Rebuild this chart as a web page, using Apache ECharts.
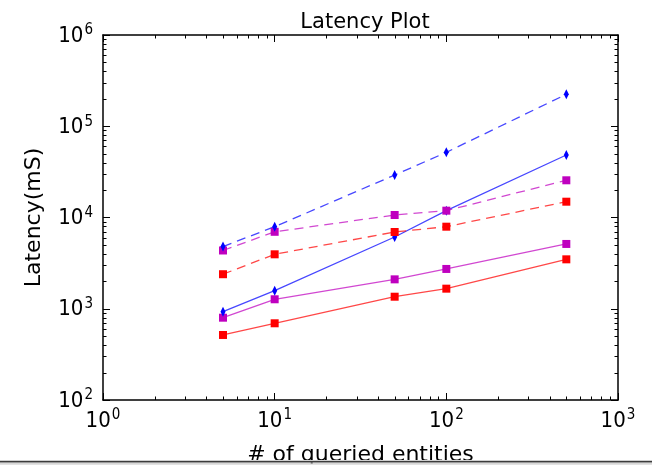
<!DOCTYPE html>
<html>
<head>
<meta charset="utf-8">
<title>Latency Plot</title>
<script src="https://cdn.jsdelivr.net/npm/echarts@6/dist/echarts.min.js"></script>
<style>
  html, body { margin: 0; padding: 0; background: #fff; }
  #chart { width: 652px; height: 465px; }
</style>
</head>
<body>
<div id="chart"></div>
<script>
// ======================
// DATA
// ======================

const entities = [5, 10, 50, 100, 500];

const redSolid      = [516, 693, 1355, 1660, 3480];
const magentaSolid  = [798, 1270, 2100, 2730, 5130];
const blueSolid     = [929, 1578, 6110, 11880, 48400];
const redDashed     = [2390, 3950, 6940, 7930, 14900];
const magentaDashed = [4350, 6970, 10650, 11880, 25570];
const blueDashed    = [4800, 7930, 29200, 51800, 224000];

const xRange = [1, 1000];
const yRange = [100, 1000000];

// ======================
// HELPERS
// ======================

const FONT = 'DejaVu Sans';
const TICK_FONT = 'DejaVu Sans Condensed';

const pairs = ys => entities.map((x, i) => [x, ys[i]]);

const powLabel = v => '{b|10}{s|' + Math.round(Math.log10(v)) + '}';

const tickRich = {
    b: { fontFamily: TICK_FONT, fontSize: 22, color: '#000', lineHeight: 24, verticalAlign: 'bottom' },
    s: { fontFamily: TICK_FONT, fontSize: 15, color: '#000', lineHeight: 24, verticalAlign: 'top', padding: [0, 0, 6, 1] }
};

function makeSeries(name, ys, color, dashed, marker) {
    const isDiamond = marker === 'diamond';
    return {
        name: name,
        type: 'line',
        data: pairs(ys),
        symbol: isDiamond ? 'diamond' : 'rect',
        symbolSize: isDiamond ? [5, 10] : 8,
        showAllSymbol: true,
        itemStyle: { color: color, opacity: 1 },
        lineStyle: {
            color: color,
            width: 1.3,
            opacity: 0.72,
            type: dashed ? [9, 6] : 'solid'
        },
        emphasis: { disabled: true },
        animation: false,
        z: 3
    };
}

function logAxis(dim, position, range, showLabel, nameOpts) {
    return Object.assign({
        type: 'log',
        logBase: 10,
        position: position,
        min: range[0],
        max: range[1],
        axisLine: { show: true, lineStyle: { color: '#000', width: 1.5 } },
        axisTick: { show: true, inside: true, length: 7, lineStyle: { color: '#000', width: 1 } },
        splitLine: { show: false },
        axisLabel: {
            show: showLabel,
            margin: dim === 'x' ? 8 : 10,
            formatter: powLabel,
            rich: tickRich
        }
    }, nameOpts || {});
}

// ======================
// OPTION
// ======================

const option = {
    animation: false,
    backgroundColor: '#fff',
    title: {
        text: 'Latency Plot',
        left: 360,
        textAlign: 'center',
        top: 7,
        textStyle: { fontFamily: FONT, fontSize: 21, fontWeight: 'normal', color: '#000' }
    },
    grid: { left: 103, right: 34, top: 35, bottom: 65, containLabel: false, outerBoundsMode: 'none' },
    xAxis: [
        logAxis('x', 'bottom', xRange, true, {
            name: '# of queried entities',
            nameLocation: 'middle',
            nameGap: 44,
            nameTextStyle: { fontFamily: FONT, fontSize: 22, color: '#000' }
        }),
        logAxis('x', 'top', xRange, false)
    ],
    yAxis: [
        logAxis('y', 'left', yRange, true, {
            name: 'Latency(mS)',
            nameLocation: 'middle',
            nameGap: 58,
            nameRotate: 90,
            nameTextStyle: { fontFamily: FONT, fontSize: 22, color: '#000' }
        }),
        logAxis('y', 'right', yRange, false)
    ],
    series: [
        makeSeries('red solid', redSolid, '#ff0000', false, 'rect'),
        makeSeries('magenta solid', magentaSolid, '#bf00bf', false, 'rect'),
        makeSeries('blue solid', blueSolid, '#0000ff', false, 'diamond'),
        makeSeries('red dashed', redDashed, '#ff0000', true, 'rect'),
        makeSeries('magenta dashed', magentaDashed, '#bf00bf', true, 'rect'),
        makeSeries('blue dashed', blueDashed, '#0000ff', true, 'diamond')
    ]
};

const chart = echarts.init(document.getElementById('chart'), null, { renderer: 'canvas' });
chart.setOption(option);

// ======================
// MINOR TICKS (log spaced, on all four sides)
// ======================

function minorValues(range) {
    const out = [];
    for (let d = range[0]; d < range[1]; d *= 10) {
        for (let m = 2; m <= 9; m++) out.push(d * m);
    }
    return out;
}

const MINOR = 3.5;
const tickStyle = { stroke: '#000', lineWidth: 1 };
const graphics = [];
const pTL = chart.convertToPixel({ gridIndex: 0 }, [xRange[0], yRange[1]]);
const pBR = chart.convertToPixel({ gridIndex: 0 }, [xRange[1], yRange[0]]);

minorValues(xRange).forEach(v => {
    const px = Math.round(chart.convertToPixel({ xAxisIndex: 0 }, v)) + 0.5;
    graphics.push({ type: 'line', shape: { x1: px, y1: pBR[1], x2: px, y2: pBR[1] - MINOR }, style: tickStyle, silent: true });
    graphics.push({ type: 'line', shape: { x1: px, y1: pTL[1], x2: px, y2: pTL[1] + MINOR }, style: tickStyle, silent: true });
});
minorValues(yRange).forEach(v => {
    const py = Math.round(chart.convertToPixel({ yAxisIndex: 0 }, v)) + 0.5;
    graphics.push({ type: 'line', shape: { x1: pTL[0], y1: py, x2: pTL[0] + MINOR, y2: py }, style: tickStyle, silent: true });
    graphics.push({ type: 'line', shape: { x1: pBR[0], y1: py, x2: pBR[0] - MINOR, y2: py }, style: tickStyle, silent: true });
});

// window edge strip at the bottom of the screenshot
graphics.push({ type: 'rect', shape: { x: 0, y: 460, width: 652, height: 1 }, style: { fill: '#cfcfcf' }, z: 100 });
graphics.push({ type: 'rect', shape: { x: 0, y: 461, width: 652, height: 1.5 }, style: { fill: '#3c3c3c' }, z: 100 });
graphics.push({ type: 'rect', shape: { x: 0, y: 462.5, width: 652, height: 1 }, style: { fill: '#9a9a9a' }, z: 100 });
graphics.push({ type: 'rect', shape: { x: 0, y: 463.5, width: 652, height: 1.5 }, style: { fill: '#e2e2e2' }, z: 100 });

chart.setOption({ graphic: graphics });
</script>
</body>
</html>
